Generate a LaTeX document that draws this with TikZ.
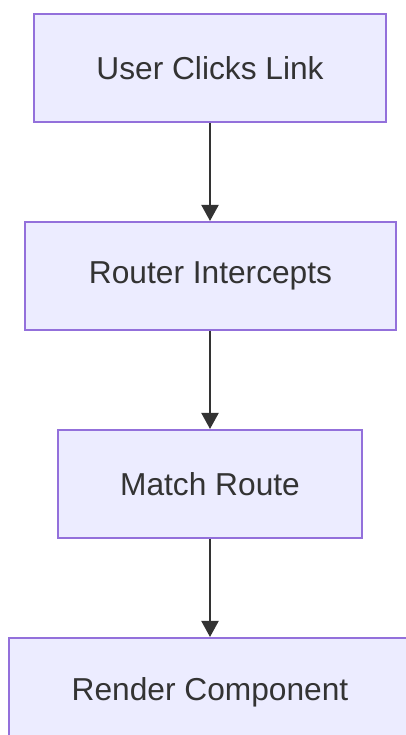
\documentclass[tikz,border=0pt]{standalone}
\usepackage{fontspec}
\setmainfont{Liberation Sans}
\usetikzlibrary{arrows.meta}
\definecolor{boxfill}{HTML}{ECECFF}
\definecolor{boxline}{HTML}{9370DB}
\definecolor{linkline}{HTML}{333333}
\begin{document}
\begin{tikzpicture}[x=1pt,y=1pt,
  flowbox/.style={draw=boxline,fill=boxfill,line width=2pt,inner sep=0pt,
    minimum height=108pt,text=linkline,font=\fontsize{31.7}{38}\selectfont},
  flowlink/.style={draw=linkline,line width=2pt,
    -{Triangle[length=16pt,width=17pt]}}]
  \useasboundingbox (0,0) rectangle (405,735);
  \node[flowbox,minimum width=352pt] (click)  at (210,667) {User Clicks Link};
  \node[flowbox,minimum width=371pt] (router) at (210.5,459) {Router Intercepts};
  \node[flowbox,minimum width=304pt] (match)  at (210,251) {Match Route};
  \node[flowbox,minimum width=402pt] (render) at (210,43) {Render Component};
  \draw[flowlink] (click.south)  -- (click.south |- router.north);
  \draw[flowlink] (click.south |- router.south) -- (match.north);
  \draw[flowlink] (match.south)  -- (render.north);
\end{tikzpicture}
\end{document}
